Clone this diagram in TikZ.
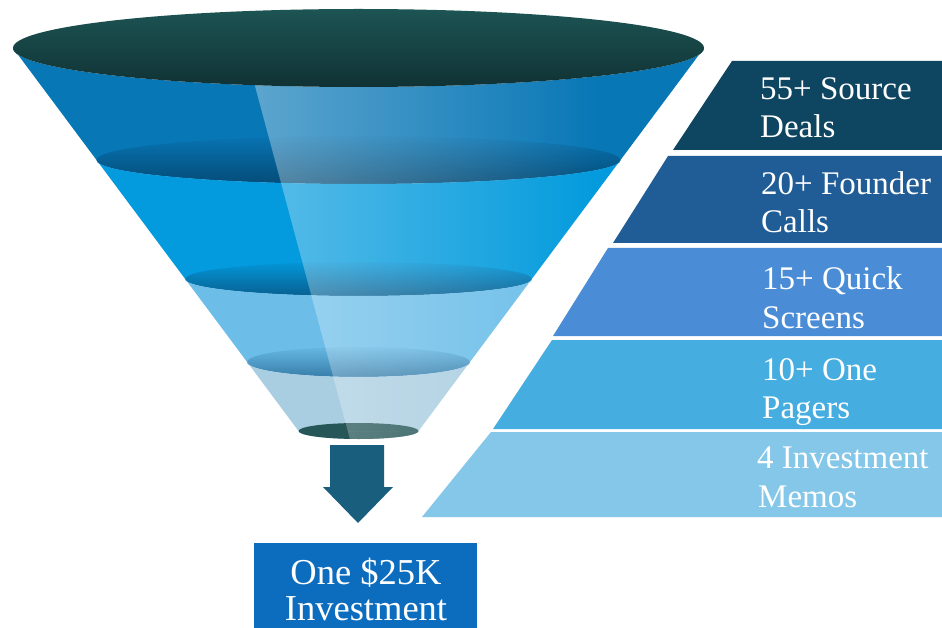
\documentclass[tikz,border=0pt]{standalone}
\usepackage{fontspec}
\setmainfont{Liberation Serif}
\usetikzlibrary{fadings}
\tikzfading[name=hlfade, left color=transparent!0, right color=transparent!100]
\definecolor{topT}{RGB}{29,84,84}
\definecolor{topB}{RGB}{16,50,52}
\definecolor{fA}{RGB}{8,119,182}
\definecolor{fAt}{RGB}{8,116,178}
\definecolor{fAb}{RGB}{4,76,120}
\definecolor{fB}{RGB}{3,155,221}
\definecolor{fBt}{RGB}{3,150,215}
\definecolor{fBb}{RGB}{8,96,146}
\definecolor{fC}{RGB}{108,190,233}
\definecolor{fCt}{RGB}{102,184,228}
\definecolor{fCb}{RGB}{56,126,170}
\definecolor{fD}{RGB}{170,206,225}
\definecolor{fE}{RGB}{38,86,88}
\definecolor{arrowc}{RGB}{26,94,126}
\definecolor{boxc}{RGB}{12,108,190}
\definecolor{rA}{RGB}{14,69,96}
\definecolor{rB}{RGB}{32,92,150}
\definecolor{rC}{RGB}{74,141,214}
\definecolor{rD}{RGB}{69,173,224}
\definecolor{rE}{RGB}{133,199,233}
\tikzset{
  lbl/.style={text=white, inner sep=0pt, font=\fontsize{33}{38}\selectfont},
  boxlbl/.style={text=white, inner sep=0pt, font=\fontsize{36.5}{37}\selectfont},
}
\begin{document}
\begin{tikzpicture}[x=1pt,y=-1pt]
\useasboundingbox (0,0) rectangle (942,628);
\fill[white] (0,0) rectangle (942,628);
% funnel geometry
\def\cx{358.5}
% band 1
\fill[fA] (\cx-345.5,48) arc[start angle=180,end angle=0,x radius=345.5,y radius=39]
  -- (\cx+262,160) arc[start angle=0,end angle=180,x radius=262,y radius=24] -- cycle;
\shade[top color=fAt, bottom color=fAb] (\cx,160) ellipse [x radius=262, y radius=24];
% band 2
\fill[fB] (\cx-262,160) arc[start angle=180,end angle=0,x radius=262,y radius=24]
  -- (\cx+173.3,279) arc[start angle=0,end angle=180,x radius=173.3,y radius=17] -- cycle;
\shade[top color=fBt, bottom color=fBb] (\cx,279) ellipse [x radius=173.3, y radius=17];
% band 3
\fill[fC] (\cx-173.3,279) arc[start angle=180,end angle=0,x radius=173.3,y radius=17]
  -- (\cx+111.4,362) arc[start angle=0,end angle=180,x radius=111.4,y radius=15] -- cycle;
\shade[top color=fCt, bottom color=fCb] (\cx,362) ellipse [x radius=111.4, y radius=15];
% band 4
\fill[fD] (\cx-111.4,362) arc[start angle=180,end angle=0,x radius=111.4,y radius=15]
  -- (\cx+60,431) arc[start angle=0,end angle=180,x radius=60,y radius=8] -- cycle;
% bottom opening
\fill[fE] (\cx,431) ellipse [x radius=60, y radius=8];
% highlight
\begin{scope}
  \clip (\cx-345.5,48) -- (\cx+345.5,48) -- (\cx+60,431) -- (\cx-60,431) -- cycle;
  \fill[white, fill opacity=0.34, path fading=hlfade] (253.4,80) -- (600,80) -- (600,440) -- (350.2,440) -- cycle;
\end{scope}
\begin{scope}
  \clip (\cx-60,431) arc[start angle=180,end angle=0,x radius=60,y radius=8] -- cycle;
  \fill[white, fill opacity=0.34, path fading=hlfade] (253.4,80) -- (600,80) -- (600,440) -- (350.2,440) -- cycle;
\end{scope}
% top ellipse
\shade[top color=topT, bottom color=topB] (\cx,48) ellipse [x radius=345.5, y radius=39];
% arrow
\fill[arrowc] (330,445) -- (384,445) -- (384,487) -- (393,487) -- (358,523) -- (323,487) -- (330,487) -- cycle;
% result box
\fill[boxc] (254,543) rectangle (477,628);
\node[boxlbl, anchor=base] (res1) at (366,584) {One \$25K};
\node[boxlbl, anchor=base] (res2) at (366,620) {Investment};
% right stages
\fill[rA] (732,61) -- (942,61) -- (942,150) -- (673,150) -- cycle;
\fill[rB] (668,156) -- (942,156) -- (942,243) -- (613,243) -- cycle;
\fill[rC] (608,248) -- (942,248) -- (942,336) -- (553,336) -- cycle;
\fill[rD] (552,340) -- (942,340) -- (942,429) -- (493,429) -- cycle;
\fill[rE] (491,432) -- (942,432) -- (942,517) -- (422,517) -- cycle;
\node[lbl, anchor=base west] (s1a) at (760,100) {55+ Source};
\node[lbl, anchor=base west] (s1b) at (760,138) {Deals};
\node[lbl, anchor=base west] (s2a) at (761,195) {20+ Founder};
\node[lbl, anchor=base west] (s2b) at (761,233) {Calls};
\node[lbl, anchor=base west] (s3a) at (762,290) {15+ Quick};
\node[lbl, anchor=base west] (s3b) at (762,328) {Screens};
\node[lbl, anchor=base west] (s4a) at (762,380) {10+ One};
\node[lbl, anchor=base west] (s4b) at (762,418) {Pagers};
\node[lbl, anchor=base west] (s5a) at (757,468) {4 Investment};
\node[lbl, anchor=base west] (s5b) at (758,507) {Memos};
\end{tikzpicture}
\end{document}
